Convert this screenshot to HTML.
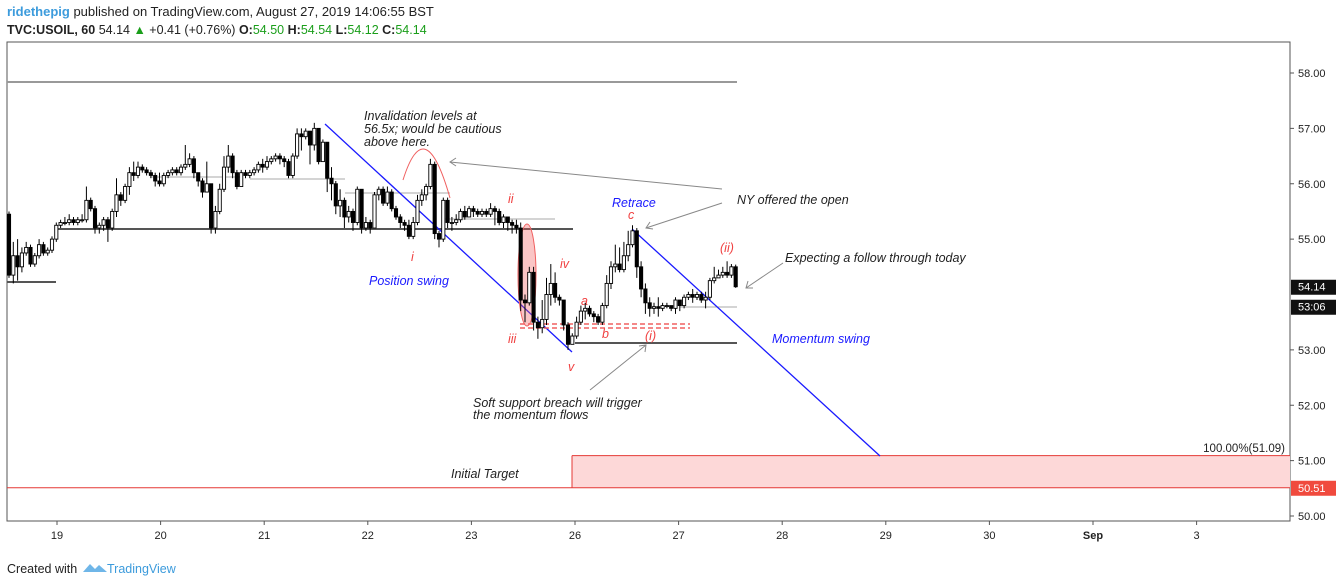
<!DOCTYPE html>
<html><head><meta charset="utf-8"><style>
body{margin:0;background:#fff;width:1342px;height:586px;overflow:hidden;font-family:"Liberation Sans",sans-serif}
svg{position:absolute;left:0;top:0}
</style></head><body>
<svg id="c" width="1342" height="586" font-family="Liberation Sans, sans-serif">
<text x="7" y="16" font-size="13"><tspan fill="#3c9bdc" font-weight="bold">ridethepig</tspan><tspan fill="#222"> published on TradingView.com, August 27, 2019 14:06:55 BST</tspan></text>
<text x="7" y="34" font-size="12.5" fill="#222"><tspan font-weight="bold">TVC:USOIL, 60</tspan> 54.14 <tspan fill="#1a9e1a">▲</tspan> +0.41 (+0.76%) <tspan font-weight="bold">O:</tspan><tspan fill="#1a9e1a">54.50</tspan> <tspan font-weight="bold">H:</tspan><tspan fill="#1a9e1a">54.54</tspan> <tspan font-weight="bold">L:</tspan><tspan fill="#1a9e1a">54.12</tspan> <tspan font-weight="bold">C:</tspan><tspan fill="#1a9e1a">54.14</tspan></text>
<rect x="7" y="42" width="1283" height="479" fill="none" stroke="#555"/>
<g id="ann"></g>
<g id="candles"></g>
<g id="axes"></g>
<text x="7" y="573" font-size="12.5" fill="#222">Created with</text>
<path d="M83 572 l7-8 5 5 4-4 8 7z" fill="#6fb6e8"/>
<text x="107" y="573" font-size="12.5" fill="#3c9bdc">TradingView</text>
</svg>
<script>
const priceTicks=[58,57,56,55,53,52,51,50];
const dayLabels=["19","20","21","22","23","26","27","28","29","30","Sep","3"];
const closes=[54.35,54.7,54.5,54.75,54.85,54.55,54.7,54.9,54.75,54.8,
55.0,55.25,55.3,55.3,55.35,55.3,55.35,55.35,55.7,55.55,
55.2,55.25,55.35,55.2,55.5,55.8,55.7,55.95,56.2,56.15,
56.3,56.25,56.2,56.15,56.05,56.0,56.15,56.2,56.25,56.2,
56.3,56.35,56.45,56.2,56.05,55.85,56.0,55.2,55.5,55.9,
56.3,56.5,56.2,55.95,56.2,56.15,56.2,56.25,56.35,56.3,
56.4,56.45,56.5,56.45,56.4,56.15,56.5,56.9,56.85,56.95,
56.7,57.0,56.4,56.75,56.1,56.0,55.6,55.7,55.4,55.5,
55.3,55.9,55.2,55.3,55.2,55.8,55.9,55.65,55.85,55.55,
55.4,55.3,55.25,55.05,55.3,55.7,55.8,55.95,56.35,55.1,
55.0,55.7,55.3,55.3,55.35,55.5,55.4,55.55,55.5,55.45,
55.5,55.45,55.55,55.5,55.3,55.4,55.3,55.25,55.2,53.9,
53.85,54.4,53.5,53.4,53.55,54.0,54.2,53.95,53.9,53.45,
53.1,53.25,53.5,53.7,53.75,53.65,53.6,53.5,53.8,54.2,
54.5,54.55,54.45,54.7,54.9,55.15,54.5,54.1,53.85,53.75,
53.78,53.75,53.8,53.8,53.75,53.9,53.8,53.95,54.0,53.95,
54.0,53.9,53.95,54.25,54.3,54.35,54.4,54.35,54.5,54.14];
const highs=[55.5,54.95,55.0,54.85,54.95,54.9,54.75,55.0,54.95,54.85,
55.05,55.3,55.35,55.4,55.45,55.4,55.4,55.45,55.95,55.75,
55.6,55.3,55.4,55.4,55.55,56.1,55.85,56.0,56.3,56.4,
56.4,56.35,56.3,56.25,56.2,56.2,56.2,56.25,56.3,56.3,
56.35,56.7,56.55,56.5,56.2,56.1,56.4,56.0,55.6,56.0,
56.5,56.7,56.55,56.25,56.25,56.25,56.25,56.3,56.4,56.45,
56.5,56.5,56.55,56.55,56.5,56.45,56.55,57.0,57.0,57.0,
56.95,57.1,57.0,56.8,56.75,56.3,56.05,55.9,55.75,55.6,
55.55,55.95,55.9,55.4,55.35,55.85,55.95,55.95,55.95,55.9,
55.6,55.45,55.35,55.35,55.4,55.8,55.9,56.0,56.45,56.4,
55.15,55.75,55.75,55.4,55.45,55.55,55.6,55.6,55.6,55.55,
55.55,55.55,55.65,55.6,55.55,55.45,55.4,55.35,55.35,55.3,
54.0,54.5,54.5,53.6,53.9,54.3,54.55,54.4,54.0,53.9,
53.5,53.3,53.6,53.8,53.85,53.8,53.7,53.65,53.85,54.35,
54.6,54.9,54.85,54.95,55.15,55.25,55.2,54.6,54.2,53.95,
53.85,53.95,53.85,53.85,53.8,53.95,53.9,54.0,54.05,54.1,
54.05,54.05,54.05,54.3,54.5,54.45,54.5,54.6,54.55,54.54];
const lows=[54.3,54.2,54.25,54.4,54.7,54.5,54.5,54.65,54.7,54.7,
54.75,54.95,55.2,55.25,55.25,55.25,55.25,55.3,55.3,55.5,
55.1,55.1,55.15,54.95,55.15,55.4,55.6,55.65,55.8,56.05,
56.1,56.2,56.15,56.1,55.95,55.95,55.95,56.1,56.15,56.15,
56.15,56.25,56.3,56.1,55.95,55.75,55.85,55.1,55.1,55.45,
55.85,56.2,56.1,55.9,55.95,56.1,56.1,56.15,56.2,56.2,
56.25,56.35,56.4,56.35,56.3,56.1,56.1,56.45,56.6,56.8,
56.35,56.6,56.35,56.4,55.85,55.7,55.45,55.4,55.2,55.3,
55.15,55.25,55.1,55.15,55.1,55.2,55.7,55.6,55.6,55.5,
55.35,55.2,55.15,55.0,55.0,55.25,55.6,55.7,55.9,55.0,
54.85,54.95,55.2,55.15,55.25,55.3,55.35,55.4,55.4,55.4,
55.4,55.4,55.4,55.25,55.25,55.2,55.15,55.1,55.1,53.7,
53.5,53.8,53.35,53.2,53.3,53.45,53.8,53.85,53.8,53.35,
53.0,53.1,53.2,53.45,53.55,53.6,53.5,53.45,53.45,53.75,
54.1,54.4,54.4,54.4,54.6,54.85,54.3,53.95,53.65,53.6,
53.65,53.6,53.7,53.75,53.7,53.65,53.7,53.75,53.9,53.85,
53.9,53.85,53.75,53.9,54.2,54.3,54.3,54.3,54.3,54.12];
const firstOpen=55.45;
const NS='http://www.w3.org/2000/svg';
const y=p=>73+(58-p)*55.375;
const xi=i=>9+i*4.3;
function mk(t,a,parent){const e=document.createElementNS(NS,t);for(const k in a)e.setAttribute(k,a[k]);parent.appendChild(e);return e;}
const cg=document.getElementById('candles');
closes.forEach((c,i)=>{
  const o=i===0?firstOpen:closes[i-1];
  const g=mk('g',{},cg);
  
  
  const x=xi(i);
  mk('line',{x1:x,x2:x,y1:y(highs[i]),y2:y(lows[i]),stroke:'#000','stroke-width':1},g);
  const top=y(Math.max(o,c)),h=Math.max(1,Math.abs(y(o)-y(c)));
  mk('rect',{x:x-1.6,y:top,width:3.2,height:h,fill:c>=o?'#fff':'#000',stroke:'#000','stroke-width':0.9},g);
});
const ax=document.getElementById('axes');
priceTicks.forEach(p=>{
  const t=mk('text',{x:1298,y:y(p)+4,'font-size':11,fill:'#222'},ax);t.textContent=p.toFixed(2);
  
  
  mk('line',{x1:1290,x2:1294,y1:y(p),y2:y(p),stroke:'#555'},ax);
});
dayLabels.forEach((d,i)=>{
  const x=57+i*103.6;
  const t=mk('text',{x:x,y:539,'font-size':11,fill:'#222','text-anchor':'middle','font-weight':d==='Sep'?'bold':'normal'},ax);t.textContent=d;
  
  
  mk('line',{x1:x,x2:x,y1:521,y2:525,stroke:'#555'},ax);
});
function lbl(p,txt,bg,yy){
  const g=mk('g',{},ax);
  
  
  mk('rect',{x:1291,y:yy-7,width:45,height:15,fill:bg},g);
  const t=mk('text',{x:1298,y:yy+4,'font-size':11,fill:'#fff'},g);t.textContent=txt;
}
lbl(54.14,'54.14','#111',y(54.14));
lbl(53.06,'53:06','#111',y(54.14)+20);
lbl(50.51,'50.51','#f04a3e',y(50.51));
const an=document.getElementById('ann');
an.innerHTML=`
<rect x="572" y="${y(51.09)}" width="718" height="${y(50.51)-y(51.09)}" fill="#fdd8d8"/>
<line x1="572" x2="1290" y1="${y(51.09)}" y2="${y(51.09)}" stroke="#e53935"/>
<line x1="7" x2="1290" y1="${y(50.51)}" y2="${y(50.51)}" stroke="#e53935"/>
<line x1="572" x2="572" y1="${y(51.09)}" y2="${y(50.51)}" stroke="#e53935"/>
<text x="1285" y="452" font-size="11.5" text-anchor="end" fill="#222">100.00%(51.09)</text>
<line x1="7" x2="737" y1="82" y2="82" stroke="#999" stroke-width="2"/>
<line x1="57" x2="573" y1="229" y2="229" stroke="#555" stroke-width="2"/>
<line x1="7" x2="56" y1="282" y2="282" stroke="#555" stroke-width="2"/>
<line x1="575" x2="737" y1="343" y2="343" stroke="#555" stroke-width="2"/>
<line x1="150" x2="240" y1="177" y2="177" stroke="#aaa"/>
<line x1="250" x2="345" y1="179" y2="179" stroke="#aaa"/>
<line x1="345" x2="410" y1="193" y2="193" stroke="#aaa"/>
<line x1="400" x2="450" y1="193" y2="193" stroke="#aaa"/>
<line x1="445" x2="555" y1="219" y2="219" stroke="#aaa"/>
<line x1="680" x2="737" y1="307" y2="307" stroke="#aaa"/>
<line x1="325" y1="124" x2="572" y2="352" stroke="#1a1aff" stroke-width="1.3"/>
<line x1="632" y1="229" x2="880" y2="456" stroke="#1a1aff" stroke-width="1.3"/>
<line x1="520" x2="690" y1="324" y2="324" stroke="#f06060" stroke-width="1.5" stroke-dasharray="5,3"/>
<line x1="520" x2="690" y1="328" y2="328" stroke="#f06060" stroke-width="1.5" stroke-dasharray="5,3"/>
<ellipse cx="527" cy="275" rx="9" ry="51" fill="rgba(240,90,90,0.35)" stroke="#f06060"/>
<path d="M403 180 Q425 110 450 198" fill="none" stroke="#f06060"/>
<g stroke="#888" fill="none">
<path d="M722 189 L450 162 M456 158 L450 162 L456 166"/>
<path d="M722 203 L646 228 M650 222 L646 228 L653 229"/>
<path d="M590 390 L646 345 M639 346 L646 345 L645 352"/>
<path d="M783 263 L746 288 M748 281 L746 288 L753 288"/>
</g>
<g font-style="italic" font-size="12.5" fill="#222">
<text x="364" y="120">Invalidation levels at</text>
<text x="364" y="133">56.5x; would be cautious</text>
<text x="364" y="146">above here.</text>
<text x="737" y="204">NY offered the open</text>
<text x="785" y="262">Expecting a follow through today</text>
<text x="473" y="407">Soft support breach will trigger</text>
<text x="473" y="419">the momentum flows</text>
<text x="451" y="478">Initial Target</text>
</g>
<g font-style="italic" font-size="12.5" fill="#1a1aff">
<text x="369" y="285">Position swing</text>
<text x="612" y="207">Retrace</text>
<text x="772" y="343">Momentum swing</text>
</g>
<g font-style="italic" font-size="12.5" fill="#f04040">
<text x="411" y="261">i</text>
<text x="508" y="203">ii</text>
<text x="508" y="343">iii</text>
<text x="560" y="268">iv</text>
<text x="568" y="371">v</text>
<text x="581" y="305">a</text>
<text x="602" y="338">b</text>
<text x="628" y="219">c</text>
<text x="645" y="340">(i)</text>
<text x="720" y="252">(ii)</text>
</g>`;
</script>
</body></html>
